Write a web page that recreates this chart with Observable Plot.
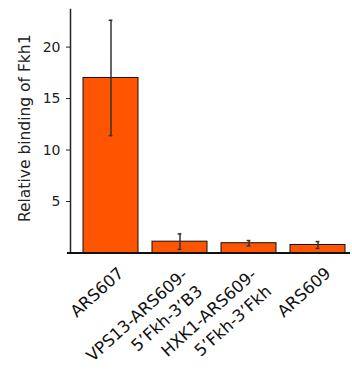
<!DOCTYPE html>
<html>
<head>
<meta charset="utf-8">
<script src="https://cdn.jsdelivr.net/npm/d3@7"></script>
<script src="https://cdn.jsdelivr.net/npm/@observablehq/plot@0.6"></script>
<style>
  html, body { margin: 0; padding: 0; background: #fff; }
  #chart svg { display: block; }
</style>
</head>
<body>
<div id="chart"></div>
<script>
const categories = ["ARS607", "VPS13-ARS609-\n5’Fkh-3’B3", "HXK1-ARS609-\n5’Fkh-3’Fkh", "ARS609"];
const values = [17.0, 1.1, 0.95, 0.78];
const errors = [5.6, 0.75, 0.26, 0.33];
const yTicks = [5, 10, 15, 20];
const yLabel = "Relative binding of Fkh1";

const data = categories.map((c, i) => ({cat: c, v: values[i], lo: values[i] - errors[i], hi: values[i] + errors[i]}));

const font = "DejaVu Sans, Verdana, sans-serif";
const isMulti = d => d.includes("\n");

const chart = Plot.plot({
  width: 352,
  height: 372,
  marginLeft: 70,
  marginRight: 2,
  marginTop: 9,
  marginBottom: 119.5,
  style: {fontFamily: font, fontSize: "14px", color: "#222", background: "#fff"},
  x: {type: "band", domain: categories, range: [69.2, 359.4], paddingInner: 0.2, paddingOuter: 0.2, axis: null},
  y: {domain: [0, 23.65], axis: null},
  marks: [
    Plot.barY(data, {x: "cat", y: "v", fill: "#ff5500", stroke: "#111", strokeWidth: 1}),
    Plot.ruleX(data, {x: "cat", y1: "lo", y2: "hi", stroke: "#333", strokeWidth: 1.5}),
    Plot.tickY(data, {x: "cat", y: "hi", stroke: "#333", strokeWidth: 1.5, insetLeft: 25.6, insetRight: 25.6}),
    Plot.tickY(data, {x: "cat", y: "lo", stroke: "#333", strokeWidth: 1.5, insetLeft: 25.6, insetRight: 25.6}),
    Plot.frame({anchor: "left", stroke: "#222", strokeWidth: 1.5}),
    Plot.ruleY([0], {stroke: "#111", strokeWidth: 2, insetLeft: -3}),
    Plot.axisY({ticks: yTicks, tickSize: 4, tickPadding: 6, fontSize: 14, stroke: "#222", label: null}),
    Plot.text([yLabel], {frameAnchor: "left", rotate: -90, textAnchor: "middle", lineAnchor: "top",
      dx: -52, dy: -3, fontSize: 15.5, fill: "#222"}),
    Plot.text(categories, {filter: d => !isMulti(d), x: d => d, frameAnchor: "bottom", rotate: -42,
      textAnchor: "end", lineAnchor: "top", dx: 6, dy: 13, fontSize: 16.5, fill: "#111"}),
    Plot.text(categories, {filter: isMulti, x: d => d, frameAnchor: "bottom", rotate: -42,
      textAnchor: "end", lineAnchor: "top", lineHeight: 1.35, dx: -2, dy: 11.5, fontSize: 16.5, fill: "#111"})
  ]
});
document.getElementById("chart").appendChild(chart);
</script>
</body>
</html>
